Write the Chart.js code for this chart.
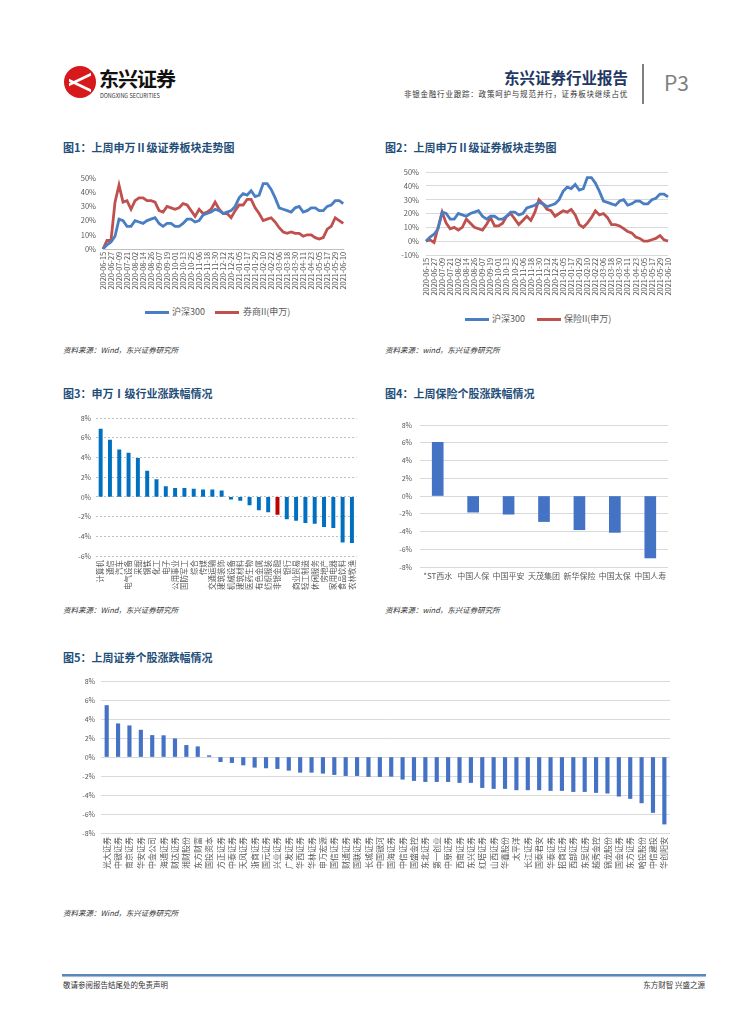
<!DOCTYPE html>
<html>
<head>
<meta charset="utf-8">
<script src="https://cdn.jsdelivr.net/npm/chart.js@4.4.1/dist/chart.umd.min.js"></script>
<style>
body{margin:0;width:755px;height:1024px;position:relative;background:#fff;overflow:hidden;
  font-family:"Noto Sans CJK SC","Noto Sans",sans-serif}
.abs{position:absolute;white-space:nowrap}
.title{font-size:11px;font-weight:bold;color:#1F4E79;line-height:14px}
.src{font-size:7.5px;color:#333;font-style:italic;line-height:10px}
.legend{font-size:9px;color:#595959;line-height:10px}
.seg{position:absolute;height:3px}
.box{position:absolute}
</style>
</head>
<body>

<!-- header -->
<div class="abs" style="left:64px;top:66px;width:32px;height:32px;border-radius:50%;background:#D7191C"></div>
<div class="abs" style="left:69px;top:78px;width:22px;height:3px;background:#fff;transform:skewY(-25deg)"></div>
<div class="abs" style="left:69px;top:84px;width:22px;height:3px;background:#fff;transform:skewY(25deg)"></div>
<div class="abs" style="left:99px;top:67px;font-size:20px;font-weight:bold;color:#111;letter-spacing:-1px;line-height:24px">东兴证券</div>
<div class="abs" style="left:100px;top:93px;font-size:5.5px;color:#333;line-height:7px">DONGXING SECURITIES</div>
<div class="abs" style="right:127px;top:68px;font-size:15.5px;font-weight:bold;color:#1F3864;line-height:19px">东兴证券行业报告</div>
<div class="abs" style="right:127px;top:89px;font-size:7.5px;color:#333;letter-spacing:0.8px;line-height:9px">非银金融行业跟踪：政策呵护与规范并行，证券板块继续占优</div>
<div class="abs" style="left:642px;top:64px;width:2px;height:40px;background:#7F7F7F"></div>
<div class="abs" style="left:664px;top:70px;font-size:21px;color:#7F7F7F;line-height:24px">P3</div>

<!-- titles & sources -->
<div class="abs title" style="left:63px;top:140px">图1：上周申万Ⅱ级证券板块走势图</div>
<div class="abs title" style="left:385px;top:140px">图2：上周申万Ⅱ级证券板块走势图</div>
<div class="abs title" style="left:63px;top:386px">图3：申万Ⅰ级行业涨跌幅情况</div>
<div class="abs title" style="left:385px;top:386px">图4：上周保险个股涨跌幅情况</div>
<div class="abs title" style="left:63px;top:650px">图5：上周证券个股涨跌幅情况</div>

<div class="abs src" style="left:63px;top:345px">资料来源：Wind，东兴证券研究所</div>
<div class="abs src" style="left:385px;top:345px">资料来源：wind，东兴证券研究所</div>
<div class="abs src" style="left:63px;top:605px">资料来源：Wind，东兴证券研究所</div>
<div class="abs src" style="left:385px;top:605px">资料来源：wind，东兴证券研究所</div>
<div class="abs src" style="left:63px;top:908px">资料来源：Wind，东兴证券研究所</div>

<!-- legends -->
<div class="seg" style="left:145px;top:311px;width:24px;background:#4A7EC2"></div>
<div class="abs legend" style="left:172px;top:307px">沪深300</div>
<div class="seg" style="left:215px;top:311px;width:24px;background:#C0504D"></div>
<div class="abs legend" style="left:243px;top:307px">券商II(申万)</div>
<div class="seg" style="left:465px;top:318px;width:24px;background:#4A7EC2"></div>
<div class="abs legend" style="left:492px;top:314px">沪深300</div>
<div class="seg" style="left:537px;top:318px;width:24px;background:#C0504D"></div>
<div class="abs legend" style="left:564px;top:314px">保险II(申万)</div>

<!-- charts -->
<div class="box" style="left:55px;top:165px;width:300px;height:145px"><canvas id="c1"></canvas></div>
<div class="box" style="left:380px;top:160px;width:300px;height:148px"><canvas id="c2"></canvas></div>
<div class="box" style="left:55px;top:405px;width:310px;height:193px"><canvas id="c3"></canvas></div>
<div class="box" style="left:380px;top:410px;width:293px;height:177px"><canvas id="c4"></canvas></div>
<div class="box" style="left:55px;top:670px;width:623px;height:205px"><canvas id="c5"></canvas></div>

<!-- footer -->
<div class="abs" style="left:62px;top:974px;width:644px;height:2px;background:#5B86B8;box-shadow:0 1px 1px #9BB3D3"></div>
<div class="abs" style="left:63px;top:980px;font-size:7.5px;color:#333;line-height:10px">敬请参阅报告结尾处的免责声明</div>
<div class="abs" style="right:50px;top:980px;font-size:7.5px;color:#333;line-height:10px">东方财智 兴盛之源</div>

<script>
// date ticks on the line charts, every 12 calendar days
const tickDates = [
  "2020-06-15","2020-06-27","2020-07-09","2020-07-21","2020-08-02","2020-08-14",
  "2020-08-26","2020-09-07","2020-09-19","2020-10-01","2020-10-13","2020-10-25",
  "2020-11-06","2020-11-18","2020-11-30","2020-12-12","2020-12-24","2021-01-05",
  "2021-01-17","2021-01-29","2021-02-10","2021-02-22","2021-03-06","2021-03-18",
  "2021-03-30","2021-04-11","2021-04-23","2021-05-05","2021-05-17","2021-05-29",
  "2021-06-10"
];

// cumulative change (%), read every 6 days
const hs300 = [
  0,3,5,9,21,20,16,16,20,19,18,20,21,22,18,16,18,18,16,16,
  18,21,21,19,20,24,25,26,28,27,25,26,27,30,36,39,38,41,37,38,
  46,46,42,36,29,28,27,26,29,30,26,27,29,29,27,27,30,31,34,34,32
];
const brokersII = [
  0,6,6,33,45,33,34,28,34,36,36,34,34,33,27,26,30,29,28,29,
  32,31,27,23,28,25,26,28,33,28,25,25,22,27,31,31,35,35,29,25,
  20,21,22,19,15,12,11,12,11,11,9,10,10,8,7,8,14,16,22,20,18
];
const insuranceII = [
  0,1,-1,10,21,13,9,10,8,10,16,13,10,9,8,12,17,11,11,13,
  18,20,16,12,15,18,15,21,30,27,23,22,18,20,22,21,23,19,12,10,
  13,17,22,19,20,17,12,12,11,9,7,6,3,2,0,0,1,2,4,1,0
];

// 申万一级行业 weekly change (%)
const industries = ["计算机","通信","汽车","电气设备","采掘","钢铁","化工","电子","公用事业","国防军工",
  "综合","传媒","交通运输","建筑装饰","机械设备","建筑材料","医药生物","有色金属","纺织服装","非银金融",
  "银行","商业贸易","轻工制造","休闲服务","房地产","家用电器","食品饮料","农林牧渔"];
const industryChg = [6.87,5.77,4.78,4.43,3.92,2.61,1.75,1.03,0.86,0.86,
  0.79,0.72,0.72,0.62,-0.23,-0.37,-0.83,-1.33,-1.53,-1.77,
  -2.23,-2.40,-2.63,-2.70,-3.03,-3.13,-4.60,-4.66];

// 保险个股
const insurers = ["*ST西水","中国人保","中国平安","天茂集团","新华保险","中国太保","中国人寿"];
const insurerChg = [6.05,-1.82,-2.05,-2.88,-3.80,-4.10,-6.98];

// 证券个股
const brokers = ["光大证券","中银证券","南京证券","华安证券","中金公司","海通证券","财达证券","湘财股份","东方财富","国投资本",
  "方正证券","中泰证券","天风证券","浙商证券","国元证券","兴业证券","广发证券","华西证券","华林证券","申万宏源",
  "国信证券","财通证券","国联证券","长城证券","中国银河","国海证券","中信证券","国盛金控","东北证券","第一创业",
  "中原证券","西南证券","东兴证券","红塔证券","山西证券","华鑫股份","太平洋","长江证券","国泰君安","华泰证券",
  "招商证券","西部证券","东吴证券","越秀金控","锦龙股份","国金证券","东方证券","哈投股份","中信建投","华创阳安"];
const brokerChg = [5.42,3.50,3.29,2.83,2.27,2.25,1.92,1.22,1.08,0.14,
  -0.49,-0.59,-0.84,-1.08,-1.15,-1.22,-1.40,-1.61,-1.61,-1.71,
  -1.85,-1.96,-1.96,-2.06,-2.06,-2.03,-2.34,-2.48,-2.59,-2.59,
  -2.59,-2.69,-2.69,-3.22,-3.32,-3.32,-3.46,-3.46,-3.46,-3.53,
  -3.53,-3.64,-3.64,-3.74,-3.81,-4.13,-4.37,-4.83,-5.84,-7.06];

Chart.defaults.font.family = '"Noto Sans CJK SC","Noto Sans",sans-serif';
Chart.defaults.color = '#595959';
Chart.defaults.animation = false;
Chart.defaults.plugins.legend.display = false;
Chart.defaults.plugins.tooltip.enabled = false;

const pct = v => v + '%';
const dayLabels = hs300.map((v, i) => i % 2 === 0 ? tickDates[i / 2] : '');

function lineChart(id, red, redName, opts) {
  return new Chart(document.getElementById(id), {
    type: 'line',
    data: {
      labels: dayLabels,
      datasets: [
        {label: '沪深300', data: hs300, borderColor: '#4A7EC2', borderWidth: 2.8, pointRadius: 0, tension: 0},
        {label: redName, data: red, borderColor: '#C0504D', borderWidth: 2.8, pointRadius: 0, tension: 0}
      ]
    },
    options: {
      responsive: true,
      maintainAspectRatio: false,
      layout: {padding: opts.padding},
      scales: {
        x: {
          afterFit: s => { s.height = opts.xh; },
          grid: {display: false, drawTicks: false},
          border: {display: opts.xBorder, color: '#BFBFBF'},
          ticks: {autoSkip: false, minRotation: 90, maxRotation: 90, padding: 3, font: {size: 7.3}}
        },
        y: {
          min: opts.min, max: 50,
          afterFit: s => { s.width = opts.yw; },
          grid: {display: opts.grid, color: '#D9D9D9', drawTicks: false},
          border: {display: false},
          ticks: {stepSize: 10, padding: 7, font: {size: 7.5}, callback: pct}
        }
      }
    }
  });
}

lineChart('c1', brokersII, '券商II(申万)', {padding: {top: 13, right: 7, bottom: 5, left: 0}, xh: 56, yw: 48, min: 0, grid: false, xBorder: true});
lineChart('c2', insuranceII, '保险II(申万)', {padding: {top: 12, right: 12, bottom: 5, left: 0}, xh: 48, yw: 46, min: -10, grid: true, xBorder: false});

function barChart(id, labels, values, opts) {
  return new Chart(document.getElementById(id), {
    type: 'bar',
    data: {
      labels: labels,
      datasets: [{data: values, backgroundColor: opts.colors, barThickness: opts.bw}]
    },
    options: {
      responsive: true,
      maintainAspectRatio: false,
      layout: {padding: opts.padding},
      scales: {
        x: {
          afterFit: s => { s.height = opts.xh; },
          grid: {display: false, drawTicks: false},
          border: {display: false},
          ticks: {autoSkip: false, minRotation: opts.rot, maxRotation: opts.rot, padding: 4, font: {size: opts.xf}}
        },
        y: {
          min: opts.min, max: 8,
          afterFit: s => { s.width = opts.yw; },
          grid: {color: opts.gridColor || '#D9D9D9', drawTicks: false},
          border: {display: false, dash: opts.dash || []},
          ticks: {stepSize: 2, padding: opts.yp, font: {size: 7}, callback: pct}
        }
      }
    }
  });
}

barChart('c3', industries, industryChg, {
  colors: industries.map(n => n === '非银金融' ? '#C00000' : '#0070C0'),
  bw: 3.3, padding: {top: 13, right: 4, bottom: 2, left: 0}, xh: 40, yw: 41, min: -6, rot: 90, xf: 7.5, yp: 5,
  dash: [2, 2], gridColor: '#BFBFBF'
});

barChart('c4', insurers, insurerChg, {
  colors: '#4472C4', bw: 11, padding: {top: 15, right: 5, bottom: 2, left: 0}, xh: 18, yw: 40, min: -8, rot: 0, xf: 8, yp: 8
});

barChart('c5', brokers, brokerChg, {
  colors: '#4472C4', bw: 3.5, padding: {top: 11, right: 4, bottom: 2, left: 0}, xh: 40, yw: 46, min: -8, rot: 90, xf: 8, yp: 6
});
</script>
</body>
</html>
